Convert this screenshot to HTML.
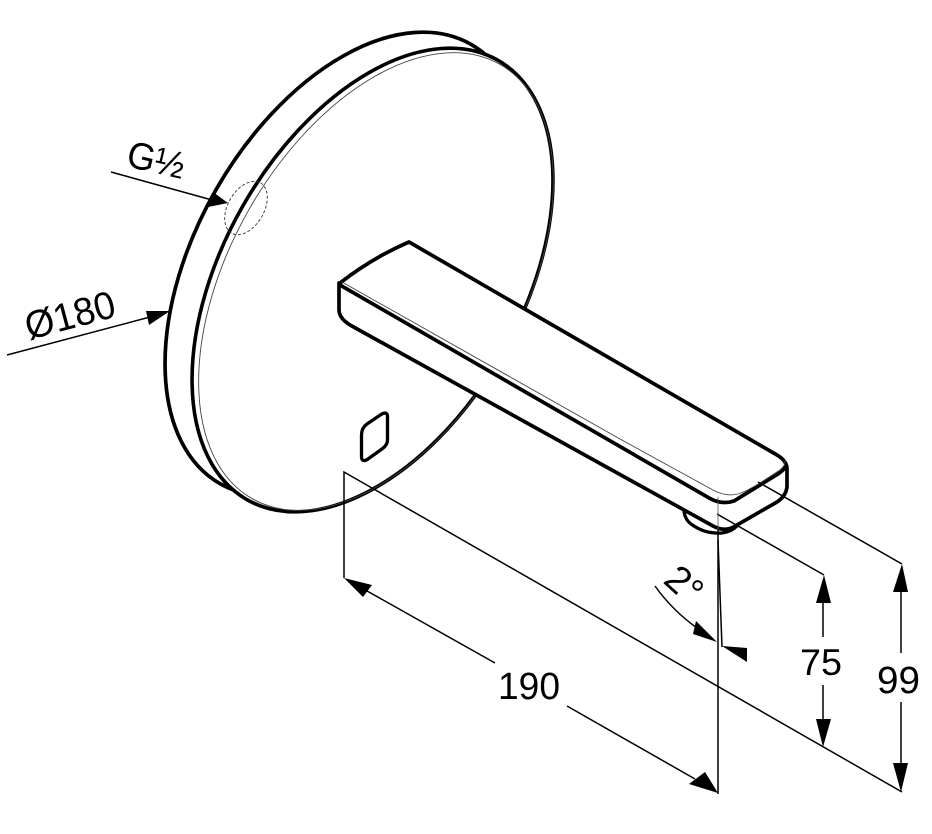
<!DOCTYPE html>
<html>
<head>
<meta charset="utf-8">
<style>
html,body{margin:0;padding:0;background:#fff;}
svg{display:block;}
text{font-family:"Liberation Sans",sans-serif;fill:#000;}
</style>
</head>
<body>
<svg width="932" height="834" viewBox="0 0 932 834" xmlns="http://www.w3.org/2000/svg">
<rect width="932" height="834" fill="#fff"/>
<!-- back disk -->
<ellipse cx="345.5" cy="264" rx="253" ry="149.3" transform="rotate(-60.25 345.5 264)" fill="#fff" stroke="#000" stroke-width="3.7"/>
<!-- front disk -->
<ellipse cx="372.5" cy="280" rx="253" ry="149.3" transform="rotate(-60.25 372.5 280)" fill="#fff" stroke="#000" stroke-width="3.6"/>
<ellipse cx="376" cy="281.5" rx="250" ry="146" transform="rotate(-60.25 376 281.5)" fill="none" stroke="#444" stroke-width="0.9"/>
<!-- dashed circle -->
<ellipse cx="246" cy="208" rx="29" ry="18" transform="rotate(-60 246 208)" fill="none" stroke="#333" stroke-width="0.9" stroke-dasharray="3 2"/>
<!-- sensor -->
<path d="M381 414.5 Q387 411 387.5 416 L387.5 440 Q387.5 445 382 449 L368 459 Q362 463 361.5 457 L361.5 435 Q361.5 428 367 424 Z" fill="#fff" stroke="#000" stroke-width="3.3"/>
<!-- aerator -->
<path d="M684 511 Q685 521 694 526 Q706 534 722 533 Q731 532 737 526" fill="#fff" stroke="#000" stroke-width="3.3"/>
<!-- spout -->
<path d="M340 283 Q372 258 409 242 L777 455 Q787 461 787 469 L787 487 Q786 496 777 502 L737 525 Q726 533 713 526 L350 325 Q339 318 339 310 L339 283 Z" fill="#fff" stroke="#000" stroke-width="3.7" stroke-linejoin="round"/>
<path d="M340 285 L710 498.5 Q722 505 734 501 L778 474 Q785 469 787 465" fill="none" stroke="#000" stroke-width="3.7"/>
<path d="M342 282 L620 439 L713 490 Q726 497 738 494 Q745 492 760 483 L780 470 Q786 465 785 460" fill="none" stroke="#444" stroke-width="0.9"/>
<!-- dimension lines -->
<g fill="none" stroke="#000" stroke-width="1.5">
<path d="M7 355 L150 317"/>
<path d="M111 172 L212 200"/>
<path d="M344 578 L344 472 L902 792"/>
<path d="M360 587 L495 663"/>
<path d="M567 706 L695 779"/>
<path d="M718 530 L718 794"/>
<path d="M718 540 L722 647"/>
<path d="M655 586 Q672 610 697 628"/>
<path d="M717 514 L824 575"/>
<path d="M823 603 L823 637"/>
<path d="M823 685 L823 720"/>
<path d="M758 482 L902 564"/>
<path d="M901 592 L901 653"/>
<path d="M901 702 L901 763"/>
</g>
<path d="M718 497 L718 530" fill="none" stroke="#555" stroke-width="0.8"/>
<!-- arrowheads -->
<g fill="#000">
<polygon points="170,311 146,311 149,325"/>
<polygon points="228,203 213,192 208,207"/>
<polygon points="344,578 372,585 363,597"/>
<polygon points="718,793 689,784 705,772"/>
<polygon points="717,642 693,634 696,621"/>
<polygon points="722,646 747,648 747,662"/>
<polygon points="824,575 816,603 831,603"/>
<polygon points="823,747 816,719 831,719"/>
<polygon points="902,564 893,592 908,592"/>
<polygon points="901,792 893,763 908,763"/>
</g>
<!-- labels -->
<text x="498" y="699" font-size="38" textLength="62" lengthAdjust="spacingAndGlyphs">190</text>
<text x="800" y="675" font-size="37" textLength="42" lengthAdjust="spacingAndGlyphs">75</text>
<text x="877" y="693" font-size="38" textLength="43" lengthAdjust="spacingAndGlyphs">99</text>
<text transform="translate(29 340) rotate(-15)" font-size="39" textLength="92" lengthAdjust="spacingAndGlyphs">Ø180</text>
<text transform="translate(125 166) rotate(13)" font-size="38" textLength="58" lengthAdjust="spacingAndGlyphs">G½</text>
<text transform="translate(662 582) rotate(42)" font-size="38">2°</text>
</svg>
</body>
</html>
